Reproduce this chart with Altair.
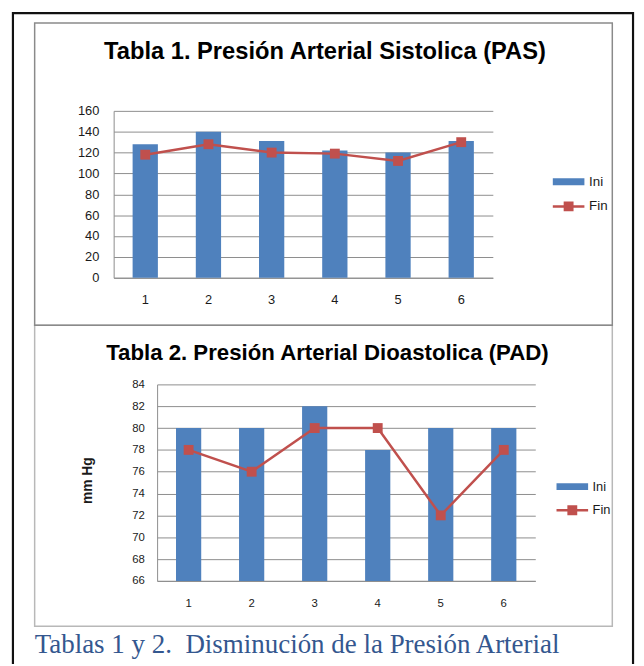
import altair as alt
import pandas as pd

# ---------------- data ----------------
cats = [1, 2, 3, 4, 5, 6]
series = ["Ini", "Fin"]
pas_ini = [128, 140, 131, 122, 120, 131]
pas_fin = [118, 128, 120, 119, 112, 130]
pad_ini = [80, 80, 82, 78, 80, 80]
pad_fin = [78, 76, 80, 80, 72, 78]
pas_ticks = [0, 20, 40, 60, 80, 100, 120, 140, 160]
pad_ticks = [66, 68, 70, 72, 74, 76, 78, 80, 82, 84]

title1 = "Tabla 1. Presión Arterial Sistolica (PAS)"
title2 = "Tabla 2. Presión Arterial Dioastolica (PAD)"
caption = "Tablas 1 y 2.\u00a0 Disminución de la Presión Arterial"
pad_ytitle = "mm Hg"

# ---------------- style ----------------
W, H = 636, 656
BLUE, RED = "#4F81BD", "#C0504D"
GRID = "#8c8c8c"
TXT = "#1a1a1a"
SYM_INI = "M-3.2,-0.7H3.2V0.7H-3.2Z"
SYM_FIN = "M-3.2,-0.25H3.2V0.25H-3.2Z M-1,-1H1V1H-1Z"


def long(ini, fin):
    rows = []
    for c, a in zip(cats, ini):
        rows.append({"cat": c, "serie": "Ini", "value": a})
    for c, b in zip(cats, fin):
        rows.append({"cat": c, "serie": "Fin", "value": b})
    return pd.DataFrame(rows)


def panel(df, x_range, y_range, domain, ticks, lab_size, xlab_pad, ylab_pad,
          leg_x, leg_y, leg_size, ytitle=None):
    x = alt.X(
        "cat:O",
        scale=alt.Scale(range=x_range, paddingInner=0.6, paddingOuter=0.3),
        axis=alt.Axis(title=None, orient="bottom", offset=-(H - y_range[0]),
                      labelAngle=0, ticks=False, grid=False,
                      domainColor=GRID, domainWidth=1,
                      labelFont="Liberation Sans", labelFontSize=lab_size,
                      labelColor=TXT, labelPadding=xlab_pad),
    )
    ax = dict(values=ticks, orient="left", offset=-x_range[0], ticks=False,
              grid=True, gridColor=GRID, gridWidth=1,
              domainColor=GRID, domainWidth=1,
              labelFont="Liberation Sans", labelFontSize=lab_size,
              labelColor=TXT, labelPadding=ylab_pad)
    if ytitle:
        ax.update(title=ytitle, titleX=-70, titleY=474, titleAngle=270,
                  titleFont="Liberation Sans", titleFontSize=14,
                  titleFontWeight="bold", titleColor=TXT,
                  titleAlign="center", titleBaseline="middle")
    else:
        ax.update(title=None)
    y = alt.Y("value:Q",
              scale=alt.Scale(domain=domain, range=[y_range[0], y_range[1]],
                              nice=False, zero=False),
              axis=alt.Axis(**ax))
    legend = alt.Legend(
        orient="none", legendX=leg_x, legendY=leg_y, title=None,
        labelFont="Liberation Sans", labelFontSize=leg_size, labelColor=TXT,
        symbolSize=100, labelOffset=14, rowPadding=10, padding=0,
        symbolOpacity=1, symbolStrokeWidth=0,
    )
    color = alt.Color("serie:N", scale=alt.Scale(domain=series, range=[BLUE, RED]),
                      legend=legend)
    shape = alt.Shape("serie:N", scale=alt.Scale(domain=series, range=[SYM_INI, SYM_FIN]),
                      legend=legend)
    bars = alt.Chart(df).transform_filter(alt.datum.serie == "Ini").mark_bar(
        color=BLUE).encode(x=x, y=y, y2=alt.datum(domain[0]))
    line = alt.Chart(df).transform_filter(alt.datum.serie == "Fin").mark_line(
        color=RED, strokeWidth=2.5,
        point=alt.OverlayMarkDef(shape="square", size=100, filled=True, opacity=1,
                                 color=RED),
    ).encode(x=x, y=y)
    key = alt.Chart(df).mark_point(filled=True, opacity=0).encode(
        x=x, y=y, color=color, shape=shape)
    return alt.layer(bars, line, key)


top = panel(long(pas_ini, pas_fin), [107, 491], [269, 100], [0, 160], pas_ticks,
            13, 16, 15, 561, 165, 13.5)
bottom = panel(long(pad_ini, pad_fin), [151, 534], [576, 377], [66, 84], pad_ticks,
               11.5, 17, 13, 565, 474, 13, ytitle=pad_ytitle)

one = pd.DataFrame({"k": [0]})


def frame(x, x2, y, y2, color, sw):
    return alt.Chart(one).mark_rect(fill="white", fillOpacity=0, stroke=color,
                                    strokeWidth=sw).encode(
        x=alt.value(x), x2=alt.value(x2), y=alt.value(y), y2=alt.value(y2))


def label(txt, x, y, font, size, weight, col, align="center"):
    return alt.Chart(one).mark_text(text=txt, font=font, fontSize=size,
                                    fontWeight=weight, color=col, align=align,
                                    baseline="alphabetic").encode(
        x=alt.value(x), y=alt.value(y))


layers = [
    frame(27, 612, 317, 622, "#b8b8b8", 1.5),
    frame(27, 612, 11, 317, "#8a8a8a", 1.5),
    frame(5, 633, 1, 680, "#111111", 2.2),
    top,
    bottom,
    label(title1, 321, 47, "Liberation Sans", 24, "bold", "#000000"),
    label(title2, 323.5, 352, "Liberation Sans", 22.5, "bold", "#000000"),
    label(caption, 27, 649, "Liberation Serif", 27.3, "normal", "#34578F", align="left"),
]

chart = alt.layer(*layers).resolve_scale(
    x="independent", y="independent", color="independent", shape="independent"
).properties(
    width=W, height=H, autosize=alt.AutoSizeParams(type="none"), padding=0,
    background="white",
).configure_view(strokeWidth=0)

chart.save("out.html", embed_options={"renderer": "svg", "actions": False})
